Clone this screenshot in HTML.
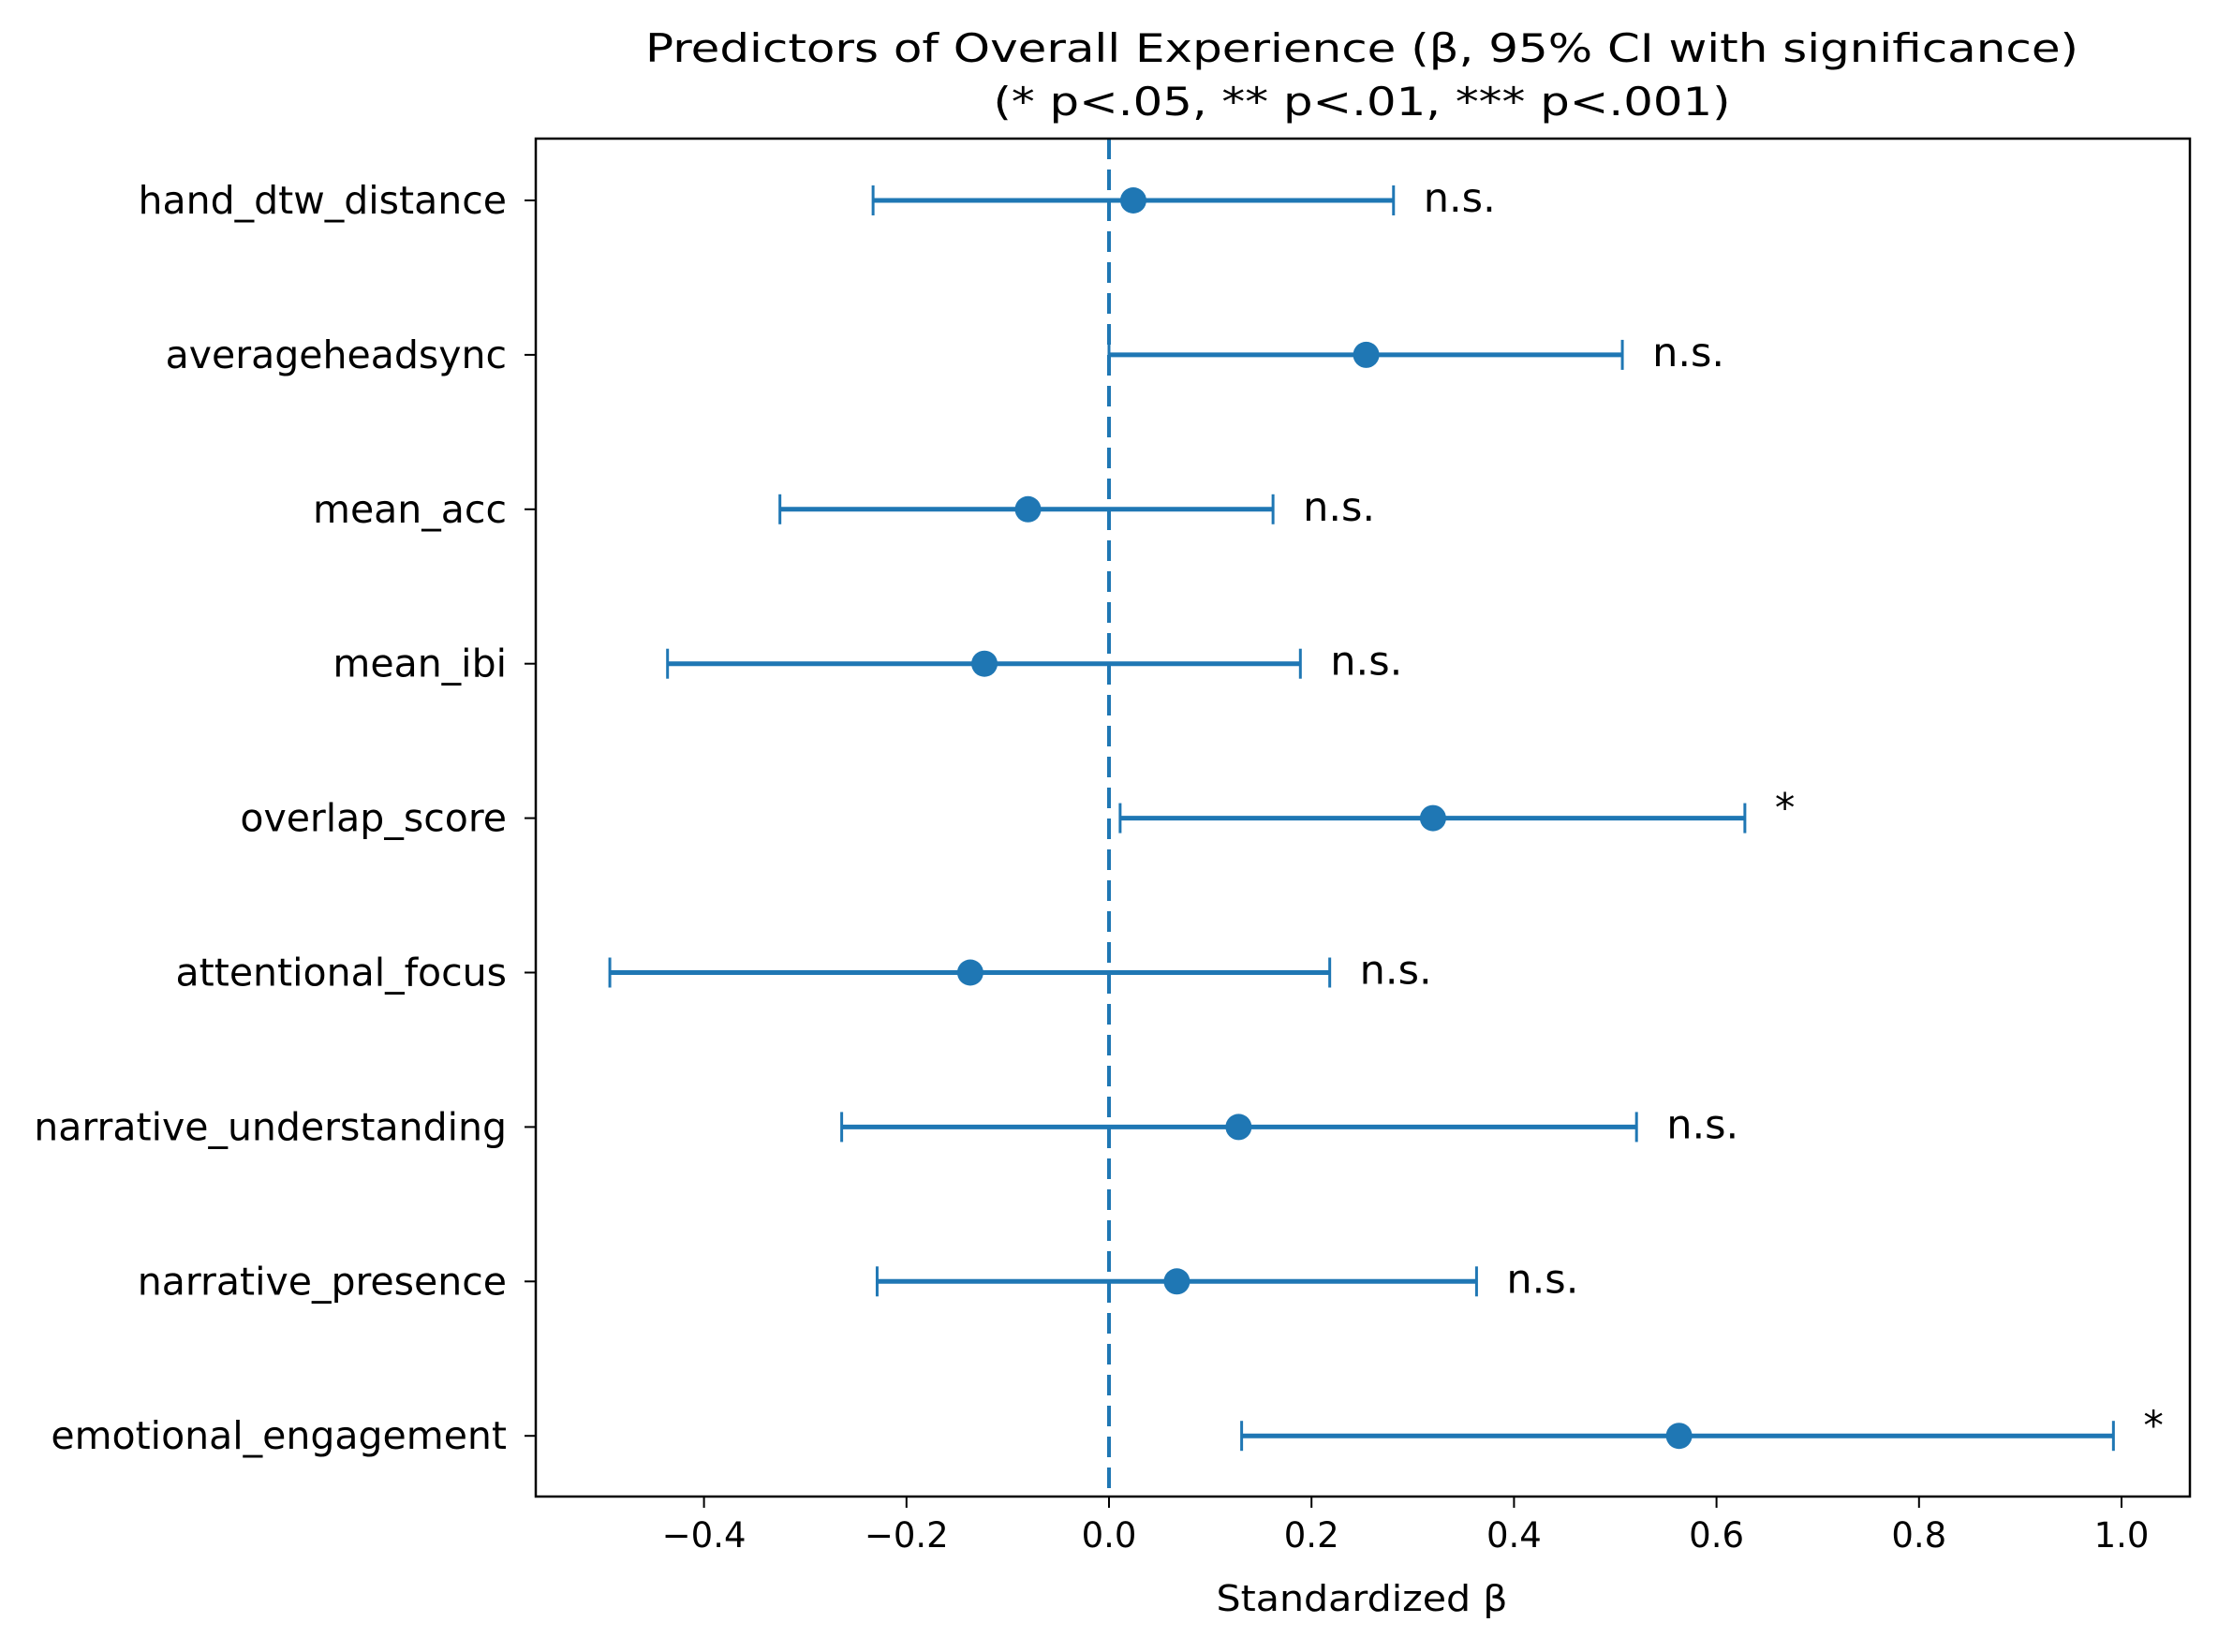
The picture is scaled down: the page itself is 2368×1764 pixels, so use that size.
<!DOCTYPE html>
<html><head><meta charset="utf-8"><style>
html,body{margin:0;padding:0;background:#fff}
svg text{font-family:"DejaVu Sans","Liberation Sans",sans-serif;fill:#000}
</style></head><body>
<svg id="chart" width="2368" height="1759" viewBox="0 0 2368 1759" xmlns="http://www.w3.org/2000/svg">
<rect width="2368" height="1759" fill="#fff"/>
<text x="1454" y="66" font-size="42" textLength="1530" lengthAdjust="spacingAndGlyphs" text-anchor="middle">Predictors of Overall Experience (β, 95% CI with significance)</text>
<text x="1454" y="123" font-size="42" textLength="787" lengthAdjust="spacingAndGlyphs" text-anchor="middle">(* p&lt;.05, ** p&lt;.01, *** p&lt;.001)</text>
<g id="plot"></g>
<rect x="572" y="148" width="1766" height="1450" fill="none" stroke="#000" stroke-width="2.5"/>
<text x="1454" y="1720" font-size="38" textLength="311" lengthAdjust="spacingAndGlyphs" text-anchor="middle">Standardized β</text>
</svg>
<script>
const categories=["hand_dtw_distance","averageheadsync","mean_acc","mean_ibi","overlap_score","attentional_focus","narrative_understanding","narrative_presence","emotional_engagement"];
const betas=[0.024,0.254,-0.080,-0.123,0.320,-0.137,0.128,0.067,0.563];
const ciLow=[-0.233,0.0,-0.325,-0.436,0.011,-0.493,-0.264,-0.229,0.131];
const ciHigh=[0.281,0.507,0.162,0.189,0.628,0.218,0.521,0.363,0.992];
const sigLabels=["n.s.","n.s.","n.s.","n.s.","*","n.s.","n.s.","n.s.","*"];
const xTicks=[-0.4,-0.2,0.0,0.2,0.4,0.6,0.8,1.0];
const xTickLabels=["−0.4","−0.2","0.0","0.2","0.4","0.6","0.8","1.0"];

const NS="http://www.w3.org/2000/svg";
const g=document.getElementById('plot');
const X0=1184, UNIT=1081, Y0=214, STEP=164.9, LEFT=572, BOTTOM=1598, TOP=148;
const xs=v=>X0+v*UNIT;
const ys=i=>Y0+i*STEP;
const C="#1f77b4";
function mk(tag,attrs){const e=document.createElementNS(NS,tag);for(const k in attrs)e.setAttribute(k,attrs[k]);g.appendChild(e);return e;}

let zl=mk('line',{x1:xs(0),x2:xs(0),y1:TOP,y2:BOTTOM,stroke:C,'stroke-width':4,'stroke-dasharray':'22 11'});



xTicks.forEach((t,i)=>{
  const x=xs(t);
  let tk=mk('line',{x1:x,x2:x,y1:BOTTOM,y2:BOTTOM+12,stroke:'#000','stroke-width':2});
  
  
  let tl=mk('text',{x:x,y:BOTTOM+54,'font-size':37,'text-anchor':'middle'});
  tl.textContent=xTickLabels[i];
  
  
});

categories.forEach((c,i)=>{
  const y=ys(i);
  let tk=mk('line',{x1:LEFT-12,x2:LEFT,y1:y,y2:y,stroke:'#000','stroke-width':2});
  
  
  let tl=mk('text',{x:LEFT-31,y:y+14,'font-size':41,'text-anchor':'end'});
  tl.textContent=c;
  
  
  const a=xs(ciLow[i]),b=xs(ciHigh[i]);
  let ln=mk('line',{x1:a,x2:b,y1:y,y2:y,stroke:C,'stroke-width':5});
  
  
  [a,b].forEach(cx=>{
    let cp=mk('line',{x1:cx,x2:cx,y1:y-16,y2:y+16,stroke:C,'stroke-width':3});
    
    
  });
  let pt=mk('circle',{cx:xs(betas[i]),cy:y,r:14,fill:C});
  
  
  let sl=mk('text',{x:b+32,y:y+(sigLabels[i]==='*'?4:12),'font-size':43});
  sl.textContent=sigLabels[i];
  
  
});
</script>
</body></html>
